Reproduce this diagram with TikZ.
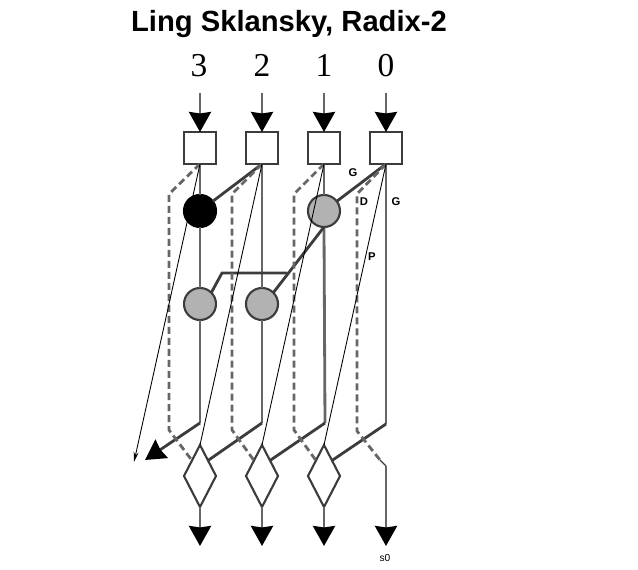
\documentclass[tikz,border=0pt]{standalone}
\usepackage{fontspec}
\setmainfont{Liberation Serif}
\setsansfont{Liberation Sans}
\usetikzlibrary{arrows.meta,shapes.geometric}
\definecolor{rungray}{HTML}{666666}
\definecolor{edgegray}{HTML}{3C3C3C}
\definecolor{cellgray}{HTML}{B2B2B2}
\tikzset{
    inbox/.style={draw=edgegray, line width=.6pt, fill=white, minimum size=.32cm, inner sep=0pt, outer sep=0pt},
    blackcell/.style={circle, draw=black, fill=black, line width=.6pt, minimum size=.32cm, inner sep=0pt, outer sep=0pt},
    graycell/.style={circle, draw=edgegray, fill=cellgray, line width=.6pt, minimum size=.32cm, inner sep=0pt, outer sep=0pt},
    sumcell/.style={diamond, draw=edgegray, fill=white, line width=.6pt, minimum width=.32cm, minimum height=.62cm, inner sep=0pt, outer sep=0pt},
    wire/.style={draw=rungray, line width=.8pt},
    carry/.style={draw=edgegray, line width=.8pt},
    dashwire/.style={draw=rungray, line width=.8pt, dash pattern=on .07cm off .04cm},
    thinwire/.style={draw=black, line width=.25pt},
    bighead/.style={-{Stealth[length=.2cm, width=.22cm, inset=.015cm, color=black]}},
    bitlabel/.style={font=\fontsize{9.5}{10}\selectfont, anchor=base},
    tinylabel/.style={font=\sffamily\fontsize{3.2}{4}\selectfont\bfseries, text=black, inner sep=0pt}
}
\begin{document}
\begin{tikzpicture}[x=.01cm, y=-.01cm]
    \useasboundingbox (0,0) rectangle (638,570);
    \node[font=\sffamily\bfseries\fontsize{8.3}{9}\selectfont] (title) at (289,24) {Ling Sklansky, Radix-2};
    \node[bitlabel] (bit3) at (199,77) {3};
    \node[bitlabel] (bit2) at (262,77) {2};
    \node[bitlabel] (bit1) at (324,77) {1};
    \node[bitlabel] (bit0) at (386,77) {0};
    \node[inbox] (box3) at (200,148) {};
    \node[inbox] (box2) at (262,148) {};
    \node[inbox] (box1) at (324,148) {};
    \node[inbox] (box0) at (386,148) {};
    \node[blackcell] (blk3) at (200,211) {};
    \node[graycell] (top1) at (324,211) {};
    \node[graycell] (low3) at (200,304) {};
    \node[graycell] (low2) at (262,304) {};
    \node[sumcell] (sum3) at (200,476) {};
    \node[sumcell] (sum2) at (262,476) {};
    \node[sumcell] (sum1) at (324,476) {};
    \coordinate (in3) at (200,93);
    \coordinate (in2) at (262,93);
    \coordinate (in1) at (324,93);
    \coordinate (in0) at (386,93);
    \coordinate (out3) at (200,546);
    \coordinate (out2) at (262,546);
    \coordinate (out1) at (324,546);
    \coordinate (out0) at (386,546);
    \coordinate (bend3) at (200,423);
    \coordinate (bend2) at (262,423);
    \coordinate (bend1) at (325,423);
    \coordinate (bend0) at (386,424);
    \coordinate (kink) at (287,273);
    \coordinate (spill) at (145,460);
    \coordinate (thin3) at (134,462);

    \draw[wire, bighead] (in3) -- (box3.north);
    \draw[wire, bighead] (in2) -- (box2.north);
    \draw[wire, bighead] (in1) -- (box1.north);
    \draw[wire, bighead] (in0) -- (box0.north);

    \draw[wire] (box3.south) -- (blk3.north);
    \draw[wire] (blk3.south) -- (low3.north);
    \draw[wire] (box2.south) -- (low2.north);
    \draw[wire] (box1.south) -- (top1.north);
    \draw[wire] (box0.south) -- (bend0);
    \draw[wire] (low3.south) -- (bend3);
    \draw[wire] (low2.south) -- (bend2);
    \draw[wire] (top1.south) -- (bend1);

    \draw[carry] (box2.south) -- (blk3);
    \draw[carry] (box0.south) -- (top1);
    \draw[carry] (top1.south) -- (low2.north east);
    \draw[carry] (kink) -- (222,273) -- (low3.north east);
    \draw[carry, bighead] (bend3) -- (spill);
    \draw[carry] (bend2) -- (sum3.north east);
    \draw[carry] (bend1) -- (sum2.north east);
    \draw[carry] (bend0) -- (sum1.north east);

    \draw[dashwire] (box3.south) -- (169,194) -- (169,430) -- (sum3.north west);
    \draw[dashwire] (box2.south) -- (232,194) -- (232,430) -- (sum2.north west);
    \draw[dashwire] (box1.south) -- (294,194) -- (294,430) -- (sum1.north west);
    \draw[dashwire] (box0.south) -- (357,194) -- (357,431) -- (380,460);
    \draw[carry, line width=.4pt] (380,460) -- (386,466);
    \draw[wire, bighead] (386,466) -- (out0);

    \draw[wire, bighead] (sum3.south) -- (out3);
    \draw[wire, bighead] (sum2.south) -- (out2);
    \draw[wire, bighead] (sum1.south) -- (out1);

    \draw[thinwire, -{Stealth[length=.1cm, width=.05cm]}] (box3.south) -- (thin3);
    \draw[thinwire] (box2.south) -- (sum3.north);
    \draw[thinwire] (box1.south) -- (sum2.north);
    \draw[thinwire] (box0.south) -- (sum1.north);

    \node[tinylabel] (lblg) at (353,173) {G};
    \node[tinylabel] (lbld) at (364,202) {D};
    \node[tinylabel] (lblgg) at (396,202) {G};
    \node[tinylabel] (lblp) at (372,257) {P};
    \node[font=\sffamily\fontsize{2.9}{4}\selectfont, inner sep=0pt] (lbls) at (385,558) {s0};
\end{tikzpicture}
\end{document}
